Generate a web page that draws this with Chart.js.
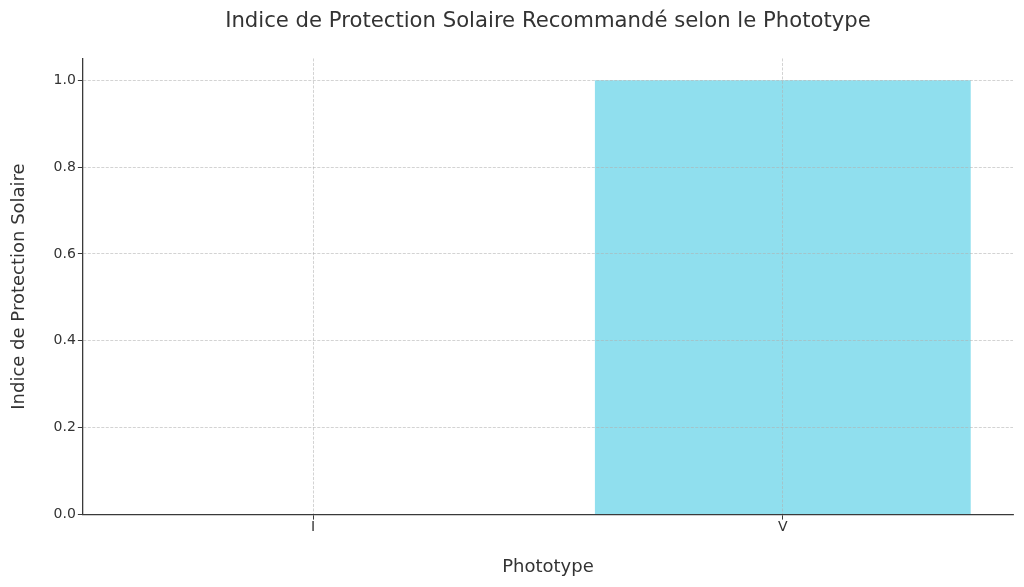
<!DOCTYPE html>
<html>
<head>
<meta charset="utf-8">
<script src="https://cdn.jsdelivr.net/npm/chart.js@4"></script>
<style>
  html, body { margin: 0; padding: 0; background: #fff; }
  #wrap { width: 1024px; height: 587px; }
</style>
</head>
<body>
<div id="wrap"><canvas id="chart"></canvas></div>
<script>
const phototypes = ["I", "V"];
const spfValues = [0, 1];
const yTicks = [0, 0.2, 0.4, 0.6, 0.8, 1.0];

const axisColor = "#3a3a3a";
const gridColor = "rgba(176,176,176,0.7)";
Chart.defaults.font.family = "'DejaVu Sans', sans-serif";
Chart.defaults.color = "#333333";

// bars sit at positions 0..n-1 on a linear axis, labelled with the phototype
const barPoints = spfValues.map((v, i) => ({ x: i, y: v }));

new Chart("chart", {
    type: "bar",
    data: {
        datasets: [{
            data: barPoints,
            backgroundColor: "#90DFEE",
            borderWidth: 0,
            barPercentage: 0.8,
            categoryPercentage: 1.0,
        }]
    },
    options: {
        responsive: true,
        maintainAspectRatio: false,
        animation: false,
        layout: { padding: { top: 0, right: 11, bottom: 9, left: 8 } },
        plugins: {
            legend: { display: false },
            tooltip: { enabled: false },
            title: {
                display: true,
                fullSize: false,
                text: "Indice de Protection Solaire Recommandé selon le Phototype",
                font: { size: 21.2, weight: "normal" },
                color: "#333333",
                padding: { top: 9, bottom: 24 }
            }
        },
        scales: {
            x: {
                type: "linear",
                offset: false,
                min: -0.49,
                max: phototypes.length - 1 + 0.49,
                afterBuildTicks: (scale) => {
                    scale.ticks = phototypes.map((p, i) => ({ value: i }));
                },
                grid: {
                    z: 1,
                    offset: false,
                    color: gridColor,
                    lineWidth: 0.8,
                    tickLength: 5,
                    tickColor: axisColor,
                    tickBorderDash: [],
                    tickWidth: 1
                },
                border: { display: true, color: axisColor, width: 1.3, dash: [3, 1.5], z: 2 },
                ticks: {
                    font: { size: 14 },
                    color: "#333333",
                    padding: -1,
                    callback: (v) => phototypes[v]
                },
                title: {
                    display: true,
                    text: "Phototype",
                    font: { size: 18 },
                    color: "#333333",
                    padding: { top: 22, bottom: 0 }
                }
            },
            y: {
                min: 0,
                max: 1.05,
                afterBuildTicks: (scale) => {
                    scale.ticks = yTicks.map(v => ({ value: v }));
                },
                grid: {
                    z: 1,
                    color: gridColor,
                    lineWidth: 0.8,
                    tickLength: 5,
                    tickColor: axisColor,
                    tickBorderDash: [],
                    tickWidth: 1
                },
                border: { display: true, color: axisColor, width: 1.3, dash: [3, 1.5], z: 2 },
                ticks: {
                    font: { size: 14 },
                    color: "#333333",
                    padding: 2,
                    callback: (v) => Number(v).toFixed(1)
                },
                title: {
                    display: true,
                    text: "Indice de Protection Solaire",
                    font: { size: 18 },
                    color: "#333333",
                    padding: { top: 1, bottom: 21 }
                }
            }
        }
    }
});
</script>
</body>
</html>
